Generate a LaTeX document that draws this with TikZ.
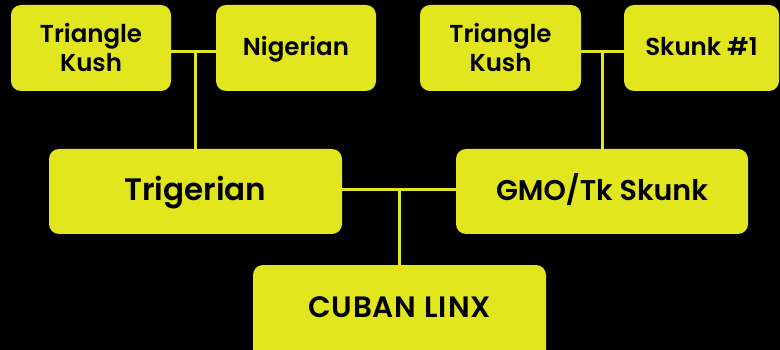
\documentclass[tikz,border=0pt]{standalone}
\usepackage{fontspec}
\setmainfont{Poppins}[BoldFont={Poppins SemiBold}]
\definecolor{lime}{RGB}{225,230,30}
\begin{document}
\begin{tikzpicture}[x=1pt,y=-1pt,
  box/.style={fill=lime, rounded corners=10pt, inner sep=0pt, align=center, text=black, font=\bfseries},
  small/.style={box, minimum height=86pt, font=\fontsize{24.5}{29}\selectfont\bfseries},
  one/.style={text height=#1, text depth=0pt},
  big/.style={box, minimum height=85pt, minimum width=293pt, font=\fontsize{31}{34}\selectfont\bfseries},
  link/.style={draw=lime, line width=3pt}]
\fill[black] (0,0) rectangle (780,350);
\clip (0,0) rectangle (780,350);
\node[small, minimum width=160pt] (tk1) at (91,48) {Triangle\\Kush};
\node[small, one=15pt, minimum width=160pt] (nig) at (296,48) {Nigerian};
\node[small, minimum width=161pt] (tk2) at (500.5,48) {Triangle\\Kush};
\node[small, one=15pt, minimum width=155pt] (sk) at (701.5,48) {Skunk \#1};
\node[big, one=19pt] (trig) at (195.5,191.5) {Trigerian};
\node[big, one=18pt, minimum width=292pt, font=\fontsize{28.5}{32}\selectfont\bfseries] (gmo) at (602,191.5) {GMO/Tk Skunk};
\node[big, minimum height=95pt, text height=19pt, text depth=10pt, font=\fontsize{29.5}{32}\selectfont\bfseries] (cuban) at (399.5,312.5) {\addfontfeature{LetterSpace=3}CUBAN LINX};
\coordinate (j1) at (195.5,52);
\coordinate (j2) at (602,52);
\coordinate (j3) at (399.5,190);
\draw[link] (tk1.east |- j1) -- (nig.west |- j1);
\draw[link] (j1) -- (trig.north);
\draw[link] (tk2.east |- j2) -- (sk.west |- j2);
\draw[link] (j2) -- (gmo.north);
\draw[link] (trig.east |- j3) -- (gmo.west |- j3);
\draw[link] (j3) -- (cuban.north);
\end{tikzpicture}
\end{document}
